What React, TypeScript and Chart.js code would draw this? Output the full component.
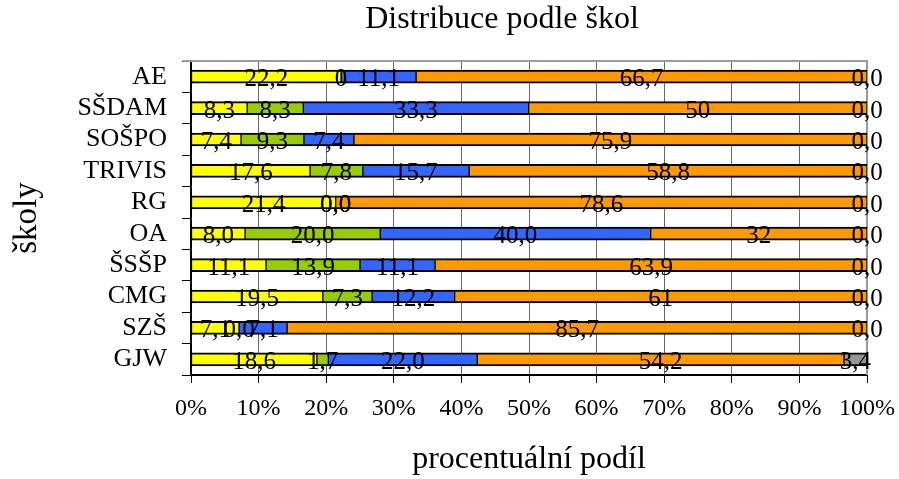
import React, { useEffect, useRef } from "react";
import { Chart, registerables } from "chart.js";

Chart.register(...registerables);

const categories = ["AE", "SŠDAM", "SOŠPO", "TRIVIS", "RG", "OA", "ŠSŠP", "CMG", "SZŠ", "GJW"];
const yellowVals = ["22,2", "8,3", "7,4", "17,6", "21,4", "8,0", "11,1", "19,5", "7,1", "18,6"];
const greenVals = ["0", "8,3", "9,3", "7,8", "0,0", "20,0", "13,9", "7,3", "0,0", "1,7"];
const blueVals = ["11,1", "33,3", "7,4", "15,7", "0,0", "40,0", "11,1", "12,2", "7,1", "22,0"];
const orangeVals = ["66,7", "50", "75,9", "58,8", "78,6", "32", "63,9", "61", "85,7", "54,2"];
const grayVals = ["0,0", "0,0", "0,0", "0,0", "0,0", "0,0", "0,0", "0,0", "0,0", "3,4"];
const seriesNames = ["s1", "s2", "s3", "s4", "s5"];
const seriesColors = ["#FFFF00", "#99CC00", "#3366FF", "#FF9900", "#969696"];
const xTickLabels = ["0%", "10%", "20%", "30%", "40%", "50%", "60%", "70%", "80%", "90%", "100%"];

const chartTitle = "Distribuce podle škol";
const xTitle = "procentuální podíl";
const yTitle = "školy";

const FONT = "'Liberation Serif', 'Times New Roman', serif";
const toNum = (s: string) => parseFloat(s.replace(",", "."));

export default function App() {
  const ref = useRef<HTMLCanvasElement>(null);

  useEffect(() => {
    if (!ref.current) return;
    const series = [yellowVals, greenVals, blueVals, orangeVals, grayVals];
    const rowSums = categories.map((_, j) => series.reduce((a, s) => a + toNum(s[j]), 0));

    const datasets = series.map((s, i) => ({
      label: seriesNames[i],
      data: s.map((v, j) => (toNum(v) / rowSums[j]) * 100),
      backgroundColor: seriesColors[i],
      borderColor: "#000000",
      borderWidth: { top: 2, bottom: 2, left: 1, right: 1 },
      borderSkipped: false,
      barThickness: 13,
      stack: "s",
    }));

    const framePlugin = {
      id: "frame",
      beforeDatasetsDraw(chart: any) {
        const { ctx, chartArea } = chart;
        ctx.save();
        ctx.strokeStyle = "#9a9a9a";
        ctx.lineWidth = 2;
        ctx.beginPath();
        ctx.moveTo(chartArea.left - 8, chartArea.top);
        ctx.lineTo(chartArea.right, chartArea.top);
        ctx.lineTo(chartArea.right, chartArea.bottom);
        ctx.stroke();
        ctx.restore();
      },
    };

    const labelPlugin = {
      id: "segLabels",
      afterDatasetsDraw(chart: any) {
        const ctx = chart.ctx;
        ctx.save();
        ctx.font = `25px ${FONT}`;
        ctx.fillStyle = "#000";
        ctx.textAlign = "center";
        ctx.textBaseline = "middle";
        series.forEach((s, i) => {
          const meta = chart.getDatasetMeta(i);
          meta.data.forEach((el: any, j: number) => {
            const { x, base, y } = el.getProps(["x", "base", "y"], true);
            ctx.fillText(s[j], (x + base) / 2, y + 3);
          });
        });
        ctx.restore();
      },
    };

    const titlePlugin = {
      id: "customTitle",
      afterDraw(chart: any) {
        const { ctx, chartArea } = chart;
        ctx.save();
        ctx.font = `32px ${FONT}`;
        ctx.fillStyle = "#000";
        ctx.textAlign = "center";
        ctx.textBaseline = "middle";
        ctx.fillText(chartTitle, (chartArea.left + chartArea.right) / 2 - 27, 20);
        ctx.restore();
      },
    };

    const chart = new Chart(ref.current, {
      type: "bar",
      data: { labels: categories, datasets: datasets as any },
      options: {
        indexAxis: "y",
        responsive: false,
        animation: false,
        devicePixelRatio: 1,
        layout: { padding: { top: 61, right: 32, bottom: 0, left: 0 } },
        plugins: {
          legend: { display: false },
          tooltip: { enabled: false },
          title: { display: false },
        },
        scales: {
          x: {
            stacked: true,
            min: 0,
            max: 100,
            ticks: {
              stepSize: 10,
              autoSkip: false,
              maxRotation: 0,
              padding: 1,
              color: "#000",
              font: { family: FONT, size: 24, lineHeight: 2.1 },
              callback: (_v: any, i: number) => xTickLabels[i],
            },
            grid: {
              color: "#6a6a6a",
              lineWidth: 1,
              tickColor: "#000",
              tickLength: 8,
            },
            border: { color: "#000", width: 2 },
            title: {
              display: true,
              text: xTitle,
              color: "#000",
              font: { family: FONT, size: 32 },
              padding: { top: 0, bottom: 0 },
            },
            afterFit: (s: any) => {
              s.height = 104;
            },
          },
          y: {
            stacked: true,
            ticks: {
              autoSkip: false,
              padding: 15,
              color: "#000",
              font: { family: FONT, size: 26 },
            },
            grid: {
              offset: true,
              drawOnChartArea: false,
              tickLength: 9,
              tickColor: "#000",
            },
            border: { color: "#000", width: 2 },
            title: {
              display: true,
              text: yTitle,
              color: "#000",
              font: { family: FONT, size: 33 },
              padding: { top: 8, bottom: 0 },
            },
            afterFit: (s: any) => {
              s.width = 191;
            },
          },
        },
      } as any,
      plugins: [framePlugin, labelPlugin, titlePlugin],
    });
    return () => chart.destroy();
  }, []);

  return (
    <div style={{ position: "absolute", left: 0, top: 0, width: 899, height: 479 }}>
      <canvas ref={ref} width={899} height={479} />
    </div>
  );
}
